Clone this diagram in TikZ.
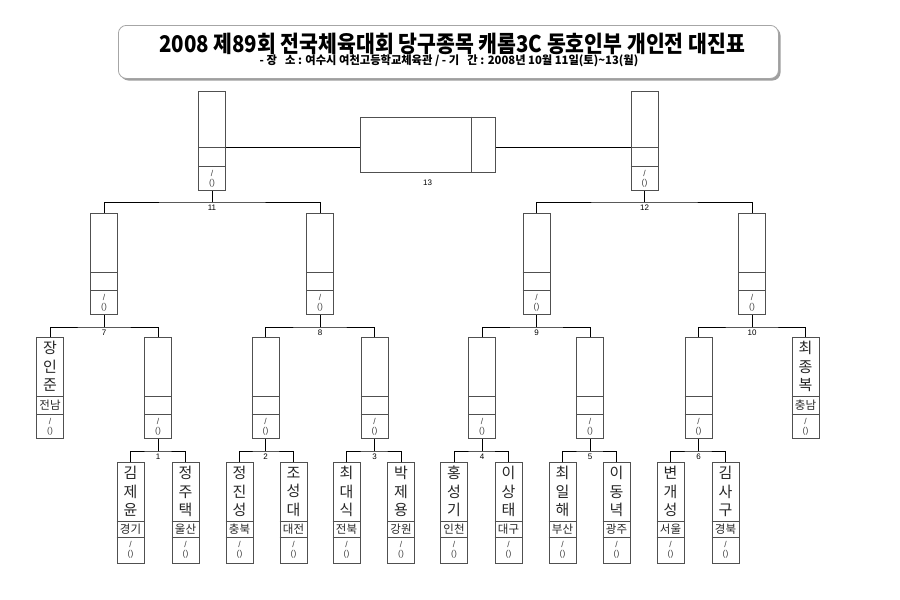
\documentclass[tikz,border=0pt]{standalone}
\usepackage{fontspec}
\usepackage{graphicx}
\setmainfont{Noto Sans CJK KR}
\newfontfamily\numfont{Liberation Sans}
\usetikzlibrary{calc}
\definecolor{boxgray}{HTML}{505050}
\tikzset{
  slotbox/.style={draw=boxgray, line width=1pt, minimum width=27pt, inner sep=0pt},
  divline/.style={draw=boxgray, line width=1pt},
  conn/.style={draw=black, line width=0.8pt},
  nametext/.style={font=\fontsize{15}{18.5}\selectfont, align=center, inner sep=0pt, text=black!85},
  regtext/.style={font=\fontsize{11.5}{12}\selectfont, inner sep=0pt, text=black!85},
  scoretext/.style={font=\numfont\fontsize{8.5}{9}\selectfont, inner sep=0pt, text=black!75},
  num/.style={font=\numfont\fontsize{8}{9}\selectfont, inner sep=0pt},
}
% #1 name, #2 x, #3 ytop, #4 height, #5 d1, #6 d2, #7 player, #8 region
\newcommand\pslot[8]{%
  \node[slotbox, minimum height=#4pt, anchor=north] (#1) at (#2,#3) {};
  \draw[divline] ($(#1.north west)+(0,#5)$) -- ($(#1.north east)+(0,#5)$);
  \draw[divline] ($(#1.north west)+(0,#6)$) -- ($(#1.north east)+(0,#6)$);
  \node[nametext] (#1p) at ($(#1.north)+(0,#5/2)$) {#7};
  \node[regtext] (#1r) at ($(#1.north)+(0,#5/2+#6/2)$) {#8};
  \node[scoretext] (#1s) at ($(#1.north)+(0,#6+7)$) {/};
  \node[scoretext] (#1t) at ($(#1.north)+(0,#6+17)$) {()};
}
% #1 id, #2 left, #3 right, #4 parent, #5 drop
\newcommand\pmatch[5]{%
  \path (#4.south) ++(0,#5) coordinate (j#1);
  \draw[conn] (#4.south) -- (j#1);
  \draw[conn] (#2.north) |- (j#1) -| (#3.north);
  \node[num] (m#1) at ($(j#1)+(0,6)$) {#1};
}
\begin{document}
\begin{tikzpicture}[x=1pt,y=-1pt]
\fill[white] (0,0) rectangle (900,600);
\useasboundingbox (0,0) rectangle (900,600);

% title box
\fill[gray!75, rounded corners=8pt] (120.5,27.5) rectangle (780.5,80.5);
\node[draw=gray!70, fill=white, line width=0.8pt, rounded corners=8pt, minimum width=660pt, minimum height=53pt, anchor=north west] (T) at (118,25) {};
\node (title) at (452,44) {\fontsize{23}{23}\selectfont\bfseries\scalebox{0.89}[1]{2008 제89회 전국체육대회 당구종목 캐롬3C 동호인부 개인전 대진표}};
\node (sub) at (449,61) {\fontsize{11.5}{11.5}\selectfont\bfseries\scalebox{0.98}[1]{- 장\,\,\, 소 : 여수시 여천고등학교체육관 / - 기\,\,\, 간 : 2008년 10월 11일(토)\textasciitilde 13(월)}};

% leaves
\pslot{A1}{130.5}{462}{101}{59}{75}{김\\제\\윤}{경기}
\pslot{A2}{185.5}{462}{101}{59}{75}{정\\주\\택}{울산}
\pslot{A3}{239.5}{462}{101}{59}{75}{정\\진\\성}{충북}
\pslot{A4}{293.5}{462}{101}{59}{75}{조\\성\\대}{대전}
\pslot{A5}{346.5}{462}{101}{59}{75}{최\\대\\식}{전북}
\pslot{A6}{401}{462}{101}{59}{75}{박\\제\\용}{강원}
\pslot{A7}{454}{462}{101}{59}{75}{홍\\성\\기}{인천}
\pslot{A8}{508.5}{462}{101}{59}{75}{이\\상\\태}{대구}
\pslot{A9}{562.5}{462}{101}{59}{75}{최\\일\\해}{부산}
\pslot{A10}{616.5}{462}{101}{59}{75}{이\\동\\녁}{광주}
\pslot{A11}{670.5}{462}{101}{59}{75}{변\\개\\성}{서울}
\pslot{A12}{725.5}{462}{101}{59}{75}{김\\사\\구}{경북}

% level 3
\pslot{B1}{50}{337}{101}{59}{77}{장\\인\\준}{전남}
\pslot{B2}{158}{337}{101}{59}{77}{}{}
\pslot{B3}{265.5}{337}{101}{59}{77}{}{}
\pslot{B4}{374.5}{337}{101}{59}{77}{}{}
\pslot{B5}{482}{337}{101}{59}{77}{}{}
\pslot{B6}{590}{337}{101}{59}{77}{}{}
\pslot{B7}{698.5}{337}{101}{59}{77}{}{}
\pslot{B8}{805.5}{337}{101}{59}{77}{최\\종\\복}{충남}

% level 2
\pslot{C1}{104}{213}{101}{59}{77}{}{}
\pslot{C2}{320}{213}{101}{59}{77}{}{}
\pslot{C3}{536.5}{213}{101}{59}{77}{}{}
\pslot{C4}{752}{213}{101}{59}{77}{}{}

% level 1
\pslot{D1}{212}{91}{99}{56}{75}{}{}
\pslot{D2}{644.5}{91}{99}{56}{75}{}{}

% final
\node[slotbox, minimum width=135pt, minimum height=55pt] (F) at (427.5,144.5) {};
\draw[divline] ($(F.north west)+(112,0)$) -- ($(F.south west)+(112,0)$);
\node[num] (m13) at ($(F.south)+(0,10)$) {13};
\coordinate (c1) at ($(D1.north east)+(0,56)$);
\coordinate (c2) at ($(D2.north west)+(0,56)$);
\draw[conn] (c1) -- (c1 -| F.west);
\draw[conn] (c2) -- (c2 -| F.east);

% matches
\pmatch{1}{A1}{A2}{B2}{12}
\pmatch{2}{A3}{A4}{B3}{12}
\pmatch{3}{A5}{A6}{B4}{12}
\pmatch{4}{A7}{A8}{B5}{12}
\pmatch{5}{A9}{A10}{B6}{12}
\pmatch{6}{A11}{A12}{B7}{12}
\pmatch{7}{B1}{B2}{C1}{12}
\pmatch{8}{B3}{B4}{C2}{12}
\pmatch{9}{B5}{B6}{C3}{12}
\pmatch{10}{B7}{B8}{C4}{12}
\pmatch{11}{C1}{C2}{D1}{11}
\pmatch{12}{C3}{C4}{D2}{11}
\end{tikzpicture}
\end{document}
